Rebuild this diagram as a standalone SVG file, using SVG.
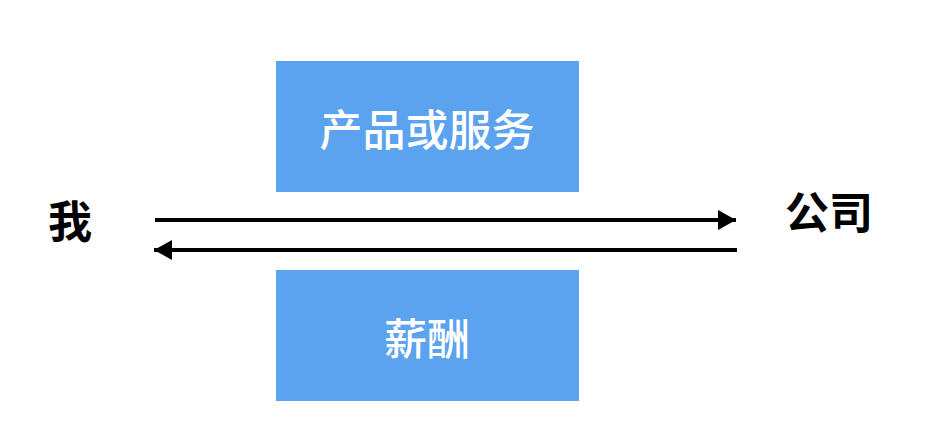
<svg xmlns="http://www.w3.org/2000/svg" width="946" height="430" viewBox="0 0 946 430">
<style>
.box{fill:#5ba2ef}
.bt{font-family:"Noto Sans CJK SC","Noto Sans",sans-serif;font-size:43px;font-weight:500;fill:#fff;text-anchor:middle;dominant-baseline:central}
.lt{font-family:"Noto Sans CJK SC","Noto Sans",sans-serif;font-size:44px;font-weight:bold;fill:#000;text-anchor:middle;dominant-baseline:central}
.ln{stroke:#000;stroke-width:4;fill:none}
</style>
<defs>
<marker id="ah" markerWidth="18" markerHeight="20" refX="18" refY="10" orient="auto" markerUnits="userSpaceOnUse">
<path d="M0,0 L18,10 L0,20 Z" fill="#000"/>
</marker>
</defs>
<rect width="946" height="430" fill="#fff"/>
<g id="product">
<rect class="box" x="276" y="61" width="303" height="131"/>
<text class="bt" x="427" y="127">产品或服务</text>
</g>
<g id="salary">
<rect class="box" x="276" y="270" width="303" height="131"/>
<text class="bt" x="427" y="336">薪酬</text>
</g>
<g id="me">
<text class="lt" x="70" y="219">我</text>
</g>
<g id="company">
<text class="lt" x="829" y="210">公司</text>
</g>
<g id="connectors">
<line class="ln" x1="155" y1="220" x2="736" y2="220" marker-end="url(#ah)"/>
<line class="ln" x1="737" y1="250" x2="154" y2="250" marker-end="url(#ah)"/>
</g>
</svg>
